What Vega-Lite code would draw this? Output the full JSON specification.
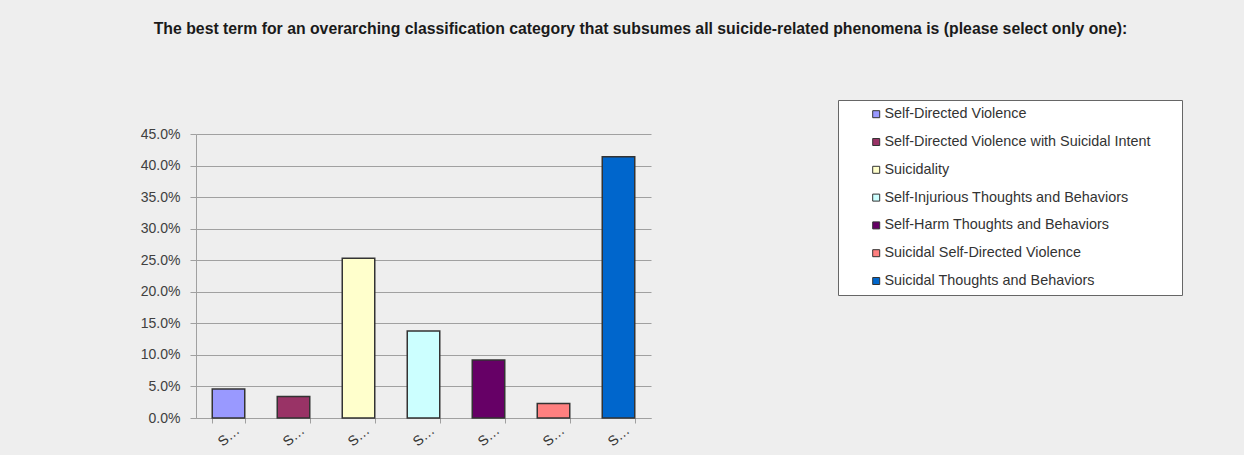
{
  "$schema": "https://vega.github.io/schema/vega-lite/v6.json",
  "autosize": {"type": "none"},
  "width": 455,
  "height": 284,
  "padding": {"left": 196, "top": 134, "right": 593, "bottom": 37},
  "background": "#eeeeee",
  "title": {
    "text": "The best term for an overarching classification category that subsumes all suicide-related phenomena is (please select only one):",
    "font": "Liberation Sans",
    "fontSize": 15.8,
    "fontWeight": "bold",
    "color": "#1a1a1a",
    "anchor": "middle",
    "frame": "group",
    "dx": 217,
    "offset": 62
  },
  "config": {
    "view": {"stroke": null},
    "font": "Liberation Sans"
  },
  "data": {
    "values": [
      {"cat": "Self-Directed Violence", "pct": 0.046},
      {"cat": "Self-Directed Violence with Suicidal Intent", "pct": 0.034},
      {"cat": "Suicidality", "pct": 0.253},
      {"cat": "Self-Injurious Thoughts and Behaviors", "pct": 0.138},
      {"cat": "Self-Harm Thoughts and Behaviors", "pct": 0.092},
      {"cat": "Suicidal Self-Directed Violence", "pct": 0.023},
      {"cat": "Suicidal Thoughts and Behaviors", "pct": 0.414}
    ]
  },
  "mark": {"type": "bar", "stroke": "#333333", "strokeWidth": 1.5},
  "encoding": {
    "x": {
      "field": "cat",
      "type": "nominal",
      "sort": null,
      "scale": {"paddingInner": 0.5, "paddingOuter": 0.25},
      "axis": {
        "title": null,
        "labelExpr": "datum.label ? substring(datum.label, 0, 1) + '…' : ''",
        "labelAngle": -40,
        "labelAlign": "center",
        "labelBaseline": "middle",
        "labelPadding": 13,
        "labelFontSize": 14,
        "labelColor": "#333333",
        "tickBand": "extent",
        "tickSize": 5,
        "tickColor": "#a0a0a0",
        "domainColor": "#a0a0a0",
        "grid": false
      }
    },
    "y": {
      "field": "pct",
      "type": "quantitative",
      "scale": {"domain": [0, 0.45], "nice": false},
      "axis": {
        "title": null,
        "format": ".1%",
        "values": [0, 0.05, 0.1, 0.15, 0.2, 0.25, 0.3, 0.35, 0.4, 0.45],
        "labelFontSize": 14,
        "labelColor": "#404040",
        "labelPadding": 10,
        "tickSize": 6,
        "tickColor": "#a0a0a0",
        "domainColor": "#a0a0a0",
        "gridColor": "#a0a0a0"
      }
    },
    "color": {
      "field": "cat",
      "type": "nominal",
      "sort": null,
      "scale": {
        "domain": ["Self-Directed Violence", "Self-Directed Violence with Suicidal Intent", "Suicidality", "Self-Injurious Thoughts and Behaviors", "Self-Harm Thoughts and Behaviors", "Suicidal Self-Directed Violence", "Suicidal Thoughts and Behaviors"],
        "range": ["#9999ff", "#993366", "#ffffcc", "#ccffff", "#660066", "#ff8080", "#0066cc"]
      },
      "legend": {
        "title": null,
        "orient": "none",
        "legendX": 642,
        "legendY": -34,
        "fillColor": "#ffffff",
        "strokeColor": "#666666",
        "padding": 7,
        "symbolType": "square",
        "symbolSize": 49,
        "symbolStrokeColor": "#333333",
        "symbolStrokeWidth": 1,
        "symbolOffset": 24,
        "labelFont": "Liberation Sans",
        "labelFontSize": 14.4,
        "labelColor": "#333333",
        "labelOffset": 1,
        "labelLimit": 400,
        "rowPadding": 12.8,
        "labelExpr": "datum.label + '\u00a0\u00a0\u00a0\u00a0\u00a0\u00a0\u200d'"
      }
    }
  }
}
